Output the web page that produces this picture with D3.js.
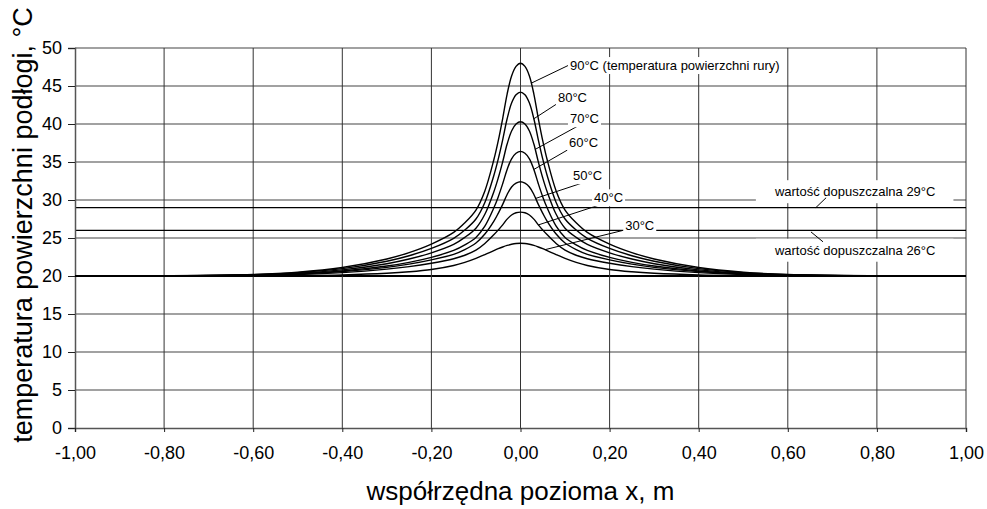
<!DOCTYPE html>
<html>
<head>
<meta charset="utf-8">
<script src="https://cdn.jsdelivr.net/npm/d3@7"></script>
<style>
  body { margin: 0; background: #fff; }
  svg { display: block; font-family: "Liberation Sans", Arial, sans-serif; }
</style>
</head>
<body>
<div id="chart"></div>
<script>
// x positions of the read points (m)
const xs = [-1, -0.8, -0.6, -0.5, -0.4, -0.3, -0.25, -0.2, -0.15, -0.125, -0.1, -0.08, -0.06, -0.05, -0.04, -0.03, -0.02, -0.01,
    0, 0.01, 0.02, 0.03, 0.04, 0.05, 0.06, 0.08, 0.1, 0.125, 0.15, 0.2, 0.25, 0.3, 0.4, 0.5, 0.6, 0.8, 1];

// floor surface temperature for each pipe temperature (°C)
const t90 = [20.0, 20.03, 20.20, 20.50, 21.12, 22.24, 23.08, 24.20, 25.74, 27.00, 28.68, 31.20, 35.26, 37.78, 40.72, 43.94, 46.32, 47.58,
    48.0, 47.58, 46.32, 43.94, 40.72, 37.78, 35.26, 31.20, 28.68, 27.00, 25.74, 24.20, 23.08, 22.24, 21.12, 20.50, 20.20, 20.03, 20.0];
const t80 = [20.0, 20.02, 20.17, 20.44, 20.97, 21.94, 22.66, 23.63, 24.96, 26.05, 27.50, 29.68, 33.19, 35.37, 37.91, 40.69, 42.75, 43.84,
    44.2, 43.84, 42.75, 40.69, 37.91, 35.37, 33.19, 29.68, 27.50, 26.05, 24.96, 23.63, 22.66, 21.94, 20.97, 20.44, 20.17, 20.02, 20.0];
const t70 = [20.0, 20.02, 20.14, 20.37, 20.81, 21.62, 22.23, 23.05, 24.16, 25.08, 26.29, 28.12, 31.06, 32.89, 35.02, 37.36, 39.08, 40.0,
    40.3, 40.0, 39.08, 37.36, 35.02, 32.89, 31.06, 28.12, 26.29, 25.08, 24.16, 23.05, 22.23, 21.62, 20.81, 20.37, 20.14, 20.02, 20.0];
const t60 = [20.0, 20.02, 20.11, 20.30, 20.66, 21.31, 21.80, 22.46, 23.36, 24.10, 25.08, 26.56, 28.94, 30.41, 32.14, 34.02, 35.42, 36.15,
    36.4, 36.15, 35.42, 34.02, 32.14, 30.41, 28.94, 26.56, 25.08, 24.10, 23.36, 22.46, 21.80, 21.31, 20.66, 20.30, 20.11, 20.02, 20.0];
const t50 = [20.0, 20.01, 20.10, 20.26, 20.57, 21.14, 21.57, 22.13, 22.85, 23.47, 24.34, 25.52, 27.19, 28.25, 29.42, 30.73, 31.72, 32.21,
    32.4, 32.21, 31.72, 30.73, 29.42, 28.25, 27.19, 25.52, 24.34, 23.47, 22.85, 22.13, 21.57, 21.14, 20.57, 20.26, 20.10, 20.01, 20.0];
const t40 = [20.0, 20.02, 20.08, 20.20, 20.45, 20.90, 21.23, 21.68, 22.27, 22.73, 23.40, 24.28, 25.42, 26.05, 26.72, 27.48, 28.02, 28.32,
    28.4, 28.32, 28.02, 27.48, 26.72, 26.05, 25.42, 24.28, 23.40, 22.73, 22.27, 21.68, 21.23, 20.90, 20.45, 20.20, 20.08, 20.02, 20.0];
const t30 = [20.0, 20.0, 20.02, 20.06, 20.15, 20.36, 20.55, 20.85, 21.38, 21.80, 22.33, 22.82, 23.34, 23.59, 23.82, 24.02, 24.17, 24.27,
    24.3, 24.27, 24.17, 24.02, 23.82, 23.59, 23.34, 22.82, 22.33, 21.80, 21.38, 20.85, 20.55, 20.36, 20.15, 20.06, 20.02, 20.0, 20.0];

const seriesNames = ["90°C (temperatura powierzchni rury)", "80°C", "70°C", "60°C", "50°C", "40°C", "30°C"];
const seriesValues = [t90, t80, t70, t60, t50, t40, t30];

// permissible values (°C)
const limits = [29, 26];
const limitNames = ["wartość dopuszczalna 29°C", "wartość dopuszczalna 26°C"];

const xTicks = [-1, -0.8, -0.6, -0.4, -0.2, 0, 0.2, 0.4, 0.6, 0.8, 1];
const yTicks = [0, 5, 10, 15, 20, 25, 30, 35, 40, 45, 50];

const W = 987, H = 509;
const margin = {top: 48, right: 21, bottom: 81, left: 75};
const width = W - margin.left - margin.right;
const height = H - margin.top - margin.bottom;

const svg = d3.select("#chart").append("svg")
    .attr("width", W)
    .attr("height", H);

const g = svg.append("g")
    .attr("transform", `translate(${margin.left},${margin.top})`);

const x = d3.scaleLinear().domain([-1, 1]).range([0, width]);
const y = d3.scaleLinear().domain([0, 50]).range([height, 0]);

// grid
g.append("g").selectAll("line")
    .data(yTicks.filter(d => d > 0))
    .join("line")
    .attr("x1", 0).attr("x2", width)
    .attr("y1", d => y(d)).attr("y2", d => y(d))
    .attr("stroke", d => d === 20 ? "#000" : "#444")
    .attr("stroke-width", d => d === 20 ? 2 : 1.2);

g.append("g").selectAll("line")
    .data(xTicks.filter(d => d > -1))
    .join("line")
    .attr("x1", d => x(d)).attr("x2", d => x(d))
    .attr("y1", 0).attr("y2", height)
    .attr("stroke", "#333")
    .attr("stroke-width", 1);

// limit lines
g.append("g").selectAll("line")
    .data(limits)
    .join("line")
    .attr("x1", 0).attr("x2", width)
    .attr("y1", d => y(d)).attr("y2", d => y(d))
    .attr("stroke", "#000")
    .attr("stroke-width", 1.2);

// axes
const yAxis = g.append("g")
    .call(d3.axisLeft(y).tickValues(yTicks).tickSize(7).tickPadding(6).tickFormat(d3.format("d")));
const xAxis = g.append("g")
    .attr("transform", `translate(0,${height})`)
    .call(d3.axisBottom(x).tickValues(xTicks).tickSize(4).tickPadding(14)
        .tickFormat(d => d3.format(".2f")(d).replace(".", ",").replace("−", "-")));

[yAxis, xAxis].forEach(a => {
    a.select(".domain").attr("stroke", "#555").attr("stroke-width", 1.5);
    a.selectAll(".tick line").attr("stroke", "#222");
    a.selectAll("text").attr("font-size", 18).attr("fill", "#000")
        .attr("font-family", "Liberation Sans, Arial, sans-serif");
});

// curves
const line = d3.line()
    .x((d, i) => x(xs[i]))
    .y(d => y(d))
    .curve(d3.curveCatmullRom.alpha(0.5));

g.append("g").selectAll("path")
    .data(seriesValues)
    .join("path")
    .attr("d", line)
    .attr("fill", "none")
    .attr("stroke", "#000")
    .attr("stroke-width", 1.4);

// value on a curve at a given x (for leader lines)
function valueAt(vals, xv) {
    const i = d3.bisectRight(xs, xv) - 1;
    const t = (xv - xs[i]) / (xs[i + 1] - xs[i]);
    return vals[i] + t * (vals[i + 1] - vals[i]);
}

// label layout: [curve x, leader end x, leader end y, text x, text baseline y] in data units
const curveLabelPos = [
    [0.024, 0.107, 47.7, 0.111, 47.1],
    [0.030, 0.083, 42.7, 0.084, 42.9],
    [0.033, 0.137, 40.0, 0.111, 40.1],
    [0.030, 0.115, 36.9, 0.109, 37.0],
    [0.034, 0.152, 32.5, 0.118, 32.6],
    [0.040, 0.201, 29.8, 0.165, 29.7],
    [0.055, 0.237, 26.1, 0.235, 26.1]
];

const ann = g.append("g");

function addLabel(text, tx, ty, px, py) {
    const grp = ann.append("g");
    const rect = grp.append("rect").attr("fill", "#fff");
    const t = grp.append("text")
        .attr("x", x(tx)).attr("y", y(ty))
        .attr("font-size", 13)
        .text(text);
    const b = t.node().getBBox();
    rect.attr("x", b.x - px).attr("y", b.y - py)
        .attr("width", b.width + 2 * px).attr("height", b.height + 2 * py);
}

seriesNames.forEach((name, i) => {
    const p = curveLabelPos[i];
    ann.append("line")
        .attr("x1", x(p[0])).attr("y1", y(valueAt(seriesValues[i], p[0])))
        .attr("x2", x(p[1])).attr("y2", y(p[2]))
        .attr("stroke", "#000").attr("stroke-width", 1);
    addLabel(name, p[3], p[4], 2, 1);
});

// limit labels: [leader x1, y1, x2, y2, text x, text baseline]
const limitLabelPos = [
    [0.686, 30.3, 0.663, 29.0, 0.571, 30.5],
    [0.652, 25.8, 0.679, 24.5, 0.571, 22.8]
];
limitNames.forEach((name, i) => {
    const p = limitLabelPos[i];
    addLabel(name, p[4], p[5], 18, 4);
    ann.append("line")
        .attr("x1", x(p[0])).attr("y1", y(p[1]))
        .attr("x2", x(p[2])).attr("y2", y(p[3]))
        .attr("stroke", "#000").attr("stroke-width", 1);
});

// axis titles
svg.append("text")
    .attr("x", margin.left + width / 2)
    .attr("y", 500)
    .attr("text-anchor", "middle")
    .attr("font-size", 26)
    .text("współrzędna pozioma x, m");

svg.append("text")
    .attr("transform", `translate(32,${margin.top + 177}) rotate(-90)`)
    .attr("text-anchor", "middle")
    .attr("font-size", 27)
    .text("temperatura powierzchni podłogi, °C");
</script>
</body>
</html>
